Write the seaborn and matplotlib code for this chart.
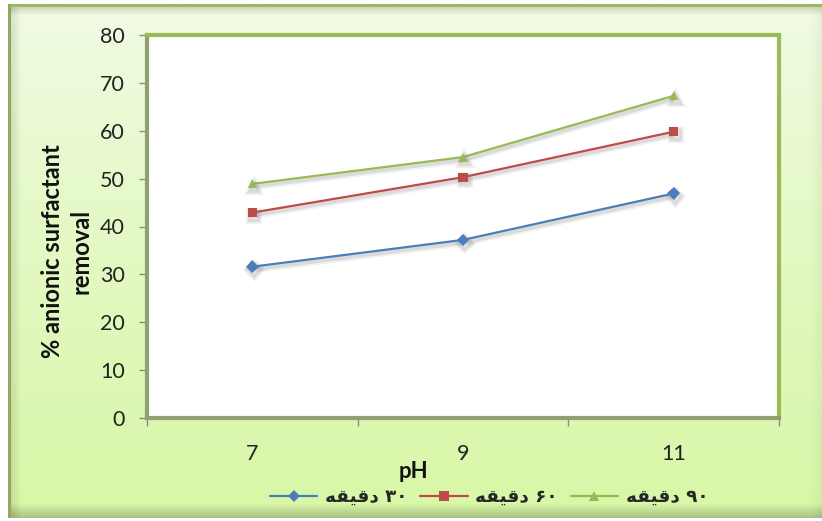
import numpy as np
import pandas as pd
import matplotlib
matplotlib.use("Agg")
import matplotlib.pyplot as plt
import matplotlib.patheffects as pe
import seaborn as sns

# ---- data -------------------------------------------------------------
ph_values = [7, 9, 11]
time_labels = ["۳۰ دقیقه", "۶۰ دقیقه", "۹۰ دقیقه"]
removal_30 = [31.6, 37.2, 46.9]
removal_60 = [42.9, 50.3, 59.8]
removal_90 = [48.9, 54.5, 67.3]
y_ticks = [0, 10, 20, 30, 40, 50, 60, 70, 80]

series_colors = ["#4a7ebb", "#be4b48", "#98b954"]
series_markers = ["D", "s", "^"]

df = pd.DataFrame({
    "pH": ph_values * 3,
    "removal": removal_30 + removal_60 + removal_90,
    "time": [t for t in time_labels for _ in ph_values],
})

# ---- minimal Persian shaping (matplotlib has no complex text layout) --
# letter: (isolated, final, initial, medial); initial None = no left join
FORMS = {
    "د": ("\uFEA9", "\uFEAA", None, None),
    "ق": ("\uFED5", "\uFED6", "\uFED7", "\uFED8"),
    "ی": ("\uFBFC", "\uFBFD", "\uFBFE", "\uFBFF"),
    "ه": ("\uFEE9", "\uFEEA", "\uFEEB", "\uFEEC"),
}


def shape_word(word):
    out = []
    for i, ch in enumerate(word):
        if ch not in FORMS:
            out.append(ch)
            continue
        prev = word[i - 1] if i > 0 else None
        nxt = word[i + 1] if i + 1 < len(word) else None
        joins_prev = prev in FORMS and FORMS[prev][2] is not None
        joins_next = nxt in FORMS and FORMS[ch][2] is not None
        iso, fin, ini, med = FORMS[ch]
        if joins_prev and joins_next:
            out.append(med)
        elif joins_prev:
            out.append(fin)
        elif joins_next:
            out.append(ini)
        else:
            out.append(iso)
    return "".join(reversed(out))


def rtl_display(text):
    number, word = text.split(" ", 1)
    return shape_word(word) + " " + number


# ---- figure -----------------------------------------------------------
sns.set_theme(style="white")
plt.rcParams["font.family"] = ["Lato", "DejaVu Sans"]

W, H = 822, 521
fig = plt.figure(figsize=(W / 100, H / 100), dpi=100)

# background panel: soft green gradient with frame and shadows
bg = fig.add_axes([0, 0, 1, 1], zorder=-10)
bg.set_axis_off()
yy = np.linspace(0, 1, H)[:, None]
top_c = np.array([0xF2, 0xFB, 0xE8]) / 255
bot_c = np.array([0xD8, 0xF7, 0xA6]) / 255
img = top_c * (1 - yy[..., None] ** 0.8) + bot_c * (yy[..., None] ** 0.8)
img = np.broadcast_to(img, (H, W, 3)).copy()
rows = np.arange(H)[:, None]
cols = np.arange(W)[None, :]
shade = np.zeros((H, W))
# inner shadow under the top edge and beside the left edge
shade += np.clip(1 - (rows - 7) / 8, 0, 1) * (rows >= 7) * 0.25
shade += np.clip(1 - (cols - 11) / 10, 0, 1) * (cols >= 11) * 0.20
# bottom and right fall-off
shade += np.clip((rows - 503) / 14, 0, 1) * 0.42
shade += np.clip((cols - 808) / 14, 0, 1) * 0.10
shade = np.clip(shade, 0, 0.5)
dark = np.array([0x6E, 0x7A, 0x5A]) / 255
img = img * (1 - shade[..., None]) + dark * shade[..., None]
green = np.array([0x9B, 0xBB, 0x59]) / 255
img[4:7, 8:, :] = green
img[4:518, 8:11, :] = np.array([0x94, 0xA8, 0x5E]) / 255
img[:4, :, :] = 1.0
img[:, :8, :] = 1.0
img[518:, :, :] = 1.0
bg.imshow(img, extent=[0, 1, 0, 1], aspect="auto", interpolation="bilinear")
bg.set_xlim(0, 1)
bg.set_ylim(0, 1)

ax = fig.add_axes([147 / W, (H - 418) / H, 632 / W, 383 / H])
ax.set_facecolor("white")

sns.lineplot(
    data=df, x="pH", y="removal", hue="time", style="time",
    hue_order=time_labels, style_order=time_labels,
    palette=series_colors, markers=series_markers, dashes=False,
    linewidth=1.6, markersize=6.5, markeredgewidth=0, ax=ax,
)

# soft drop shadow under the data lines
shadow = [
    pe.SimpleLineShadow(offset=(1.0, -2.0), shadow_color="#777777", alpha=0.10, linewidth=5),
    pe.SimpleLineShadow(offset=(1.0, -2.0), shadow_color="#777777", alpha=0.18, linewidth=2.5),
    pe.Normal(),
]
for line in ax.lines:
    if len(line.get_xdata()) > 0:
        line.set_path_effects(shadow)

ax.set_xlim(6, 12)
ax.set_ylim(0, 80)
ax.set_yticks(y_ticks)
ax.set_xticks(ph_values)
ax.set_xticklabels([str(v) for v in ph_values])
ax.set_xticks([6, 8, 10, 12], minor=True)
ax.set_xlabel("")
ax.set_ylabel("")

tick_gray = "#8a8a8a"
ax.tick_params(axis="y", which="major", direction="out", length=6, width=1,
               color=tick_gray, pad=10, labelsize=15.5, labelcolor="#222222", left=True)
ax.tick_params(axis="x", which="major", length=0, pad=18.5, labelsize=15.5,
               labelcolor="#222222", bottom=True)
ax.tick_params(axis="x", which="minor", direction="out", length=6, width=1,
               color=tick_gray, bottom=True)

for side in ["top", "right"]:
    ax.spines[side].set_color("#9bbb59")
    ax.spines[side].set_linewidth(3)
for side in ["left", "bottom"]:
    ax.spines[side].set_color("#929f72")
    ax.spines[side].set_linewidth(3)

handles, labels = ax.get_legend_handles_labels()
ax.get_legend().remove()
for h in handles:
    h.set_path_effects([])
fig.legend(
    handles, [rtl_display(l) for l in labels],
    loc="center", bbox_to_anchor=(489 / W, 1 - 497 / H), ncol=3,
    frameon=False, handlelength=2.6, handletextpad=0.4, columnspacing=0.7,
    prop={"family": ["DejaVu Sans"], "weight": "bold", "size": 13.2},
)

fig.text(67 / W, 1 - 251 / H, "% anionic surfactant\nremoval", rotation=90,
         ha="center", va="center", fontsize=17, fontweight="bold",
         color="#111111", linespacing=1.3, multialignment="center")
fig.text(413 / W, 1 - 471 / H, "pH", ha="center", va="center",
         fontsize=16, fontweight="bold", color="#111111")

fig.savefig("out.png", dpi=100)
